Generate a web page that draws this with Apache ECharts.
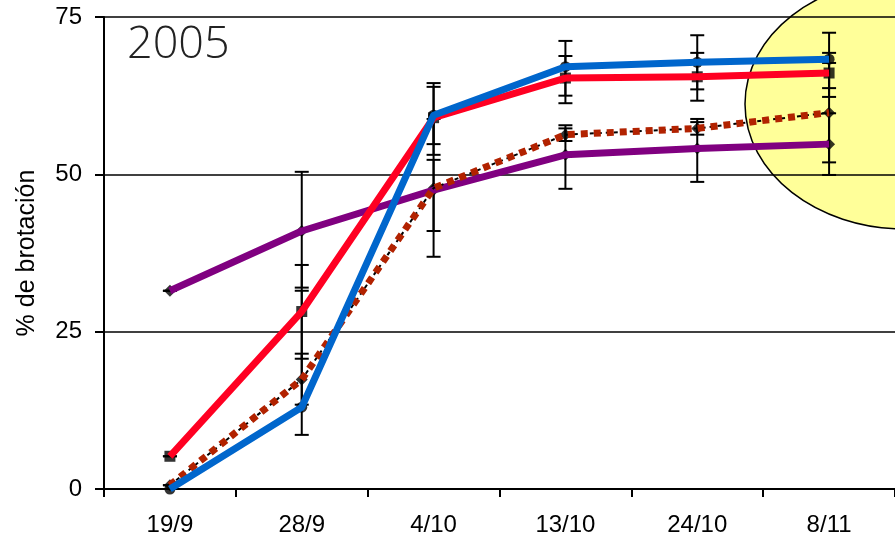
<!DOCTYPE html>
<html>
<head>
<meta charset="utf-8">
<script src="https://cdn.jsdelivr.net/npm/echarts@6/dist/echarts.min.js"></script>
<style>
  html, body { margin: 0; padding: 0; background: #fff; }
  #chart { width: 895px; height: 544px; }
</style>
</head>
<body>
<div id="chart"></div>
<script>
// Sampling dates
const categories = ['19/9', '28/9', '4/10', '13/10', '24/10', '8/11'];
const yTicks = [0, 25, 50, 75];

// Sprouting percentage per treatment
const purpleVals = [31.5, 41.0, 47.5, 53.1, 54.1, 54.8];
const redVals    = [5.2, 28.2, 59.0, 65.3, 65.5, 66.1];
const blueVals   = [0.0, 13.0, 59.4, 67.1, 67.8, 68.3];
const brownVals  = [0.6, 17.4, 47.8, 56.3, 57.3, 59.8];

// Error bar extents (above / below the mean)
const purpleUp   = [0, 9.4, 4.8, 4.7, 4.7, 4.9];
const purpleDown = [0, 9.0, 6.5, 5.4, 5.3, 4.9];
const redUp      = [0, 7.4, 5.5, 3.5, 3.8, 3.2];
const redDown    = [0, 7.5, 5.9, 4.0, 3.8, 3.8];
const blueUp     = [0, 8.5, 4.5, 4.1, 4.3, 4.2];
const blueDown   = [0, 4.4, 4.6, 4.6, 4.3, 4.6];
const brownUp    = [0, 14.1, 11.0, 1.0, 1.0, 7.9];
const brownDown  = [0, 4.0, 10.9, 1.0, 1.0, 7.9];

const FONT = '"Liberation Sans", Arial, sans-serif';

function errorData(vals, up, down) {
  return vals.map((v, i) => [i, v - down[i], v + up[i]]);
}

function errorSeries(vals, up, down) {
  return {
    type: 'custom',
    z: 2,
    silent: true,
    data: errorData(vals, up, down),
    renderItem: function (params, api) {
      const x = api.value(0);
      const lo = api.coord([x, api.value(1)]);
      const hi = api.coord([x, api.value(2)]);
      const hw = 7;
      const st = { stroke: '#000', lineWidth: 2 };
      return {
        type: 'group',
        children: [
          { type: 'line', shape: { x1: lo[0], y1: lo[1], x2: hi[0], y2: hi[1] }, style: st },
          { type: 'line', shape: { x1: lo[0] - hw, y1: lo[1], x2: lo[0] + hw, y2: lo[1] }, style: st },
          { type: 'line', shape: { x1: hi[0] - hw, y1: hi[1], x2: hi[0] + hw, y2: hi[1] }, style: st }
        ]
      };
    }
  };
}

function markerSeries(vals, symbol, size) {
  return {
    type: 'scatter',
    z: 3,
    silent: true,
    symbol: symbol,
    symbolSize: size,
    itemStyle: { color: '#000' },
    data: vals
  };
}

function lineSeries(vals, color, width, type, z) {
  return {
    type: 'line',
    z: z,
    silent: true,
    showSymbol: false,
    symbol: 'none',
    data: vals,
    lineStyle: { color: color, width: width, type: type, cap: 'butt', join: 'round' }
  };
}

const chart = echarts.init(document.getElementById('chart'), null, { renderer: 'canvas' });

chart.setOption({
  backgroundColor: '#fff',
  animation: false,
  grid: { left: 104, top: 17, width: 797, height: 472, containLabel: false },
  graphic: [
    {
      type: 'ellipse',
      z: -10,
      shape: { cx: 905, cy: 104, rx: 160, ry: 125 },
      style: { fill: '#FFFF99', stroke: '#000', lineWidth: 1.5 }
    },
    {
      type: 'text',
      left: 127,
      top: 23,
      z: 10,
      style: {
        text: '2005',
        font: '300 45px "Open Sans", "Noto Sans", sans-serif',
        fill: '#222'
      }
    }
  ],
  xAxis: {
    type: 'category',
    data: categories,
    boundaryGap: true,
    axisLine: { lineStyle: { color: '#000', width: 2 } },
    axisTick: { show: true, length: 8, lineStyle: { color: '#000', width: 2 } },
    axisLabel: { color: '#000', fontFamily: FONT, fontSize: 24, margin: 24 },
    splitLine: { show: false }
  },
  yAxis: {
    type: 'value',
    min: yTicks[0],
    max: yTicks[yTicks.length - 1],
    interval: 25,
    name: '% de brotación',
    nameLocation: 'middle',
    nameGap: 64,
    nameTextStyle: { color: '#000', fontFamily: FONT, fontSize: 25 },
    axisLine: { show: true, lineStyle: { color: '#000', width: 2 } },
    axisTick: { show: true, length: 9, lineStyle: { color: '#000', width: 2 } },
    axisLabel: { color: '#000', fontFamily: FONT, fontSize: 24, margin: 22 },
    splitLine: { show: true, lineStyle: { color: '#000', width: 1.5 } }
  },
  series: [
    errorSeries(purpleVals, purpleUp, purpleDown),
    errorSeries(redVals, redUp, redDown),
    errorSeries(blueVals, blueUp, blueDown),
    errorSeries(brownVals, brownUp, brownDown),

    markerSeries(purpleVals, 'diamond', 12),
    markerSeries(redVals, 'rect', 11),
    markerSeries(blueVals, 'circle', 11),
    markerSeries(brownVals, 'diamond', 12),

    lineSeries(purpleVals, '#800080', 7, 'solid', 4),
    lineSeries(brownVals, '#000', 2, [4, 4], 4),
    lineSeries(brownVals, '#B22200', 7, [7, 6], 5),
    lineSeries(redVals, '#FF0022', 7, 'solid', 6),
    lineSeries(blueVals, '#0066CC', 7, 'solid', 7)
  ]
});
</script>
</body>
</html>
